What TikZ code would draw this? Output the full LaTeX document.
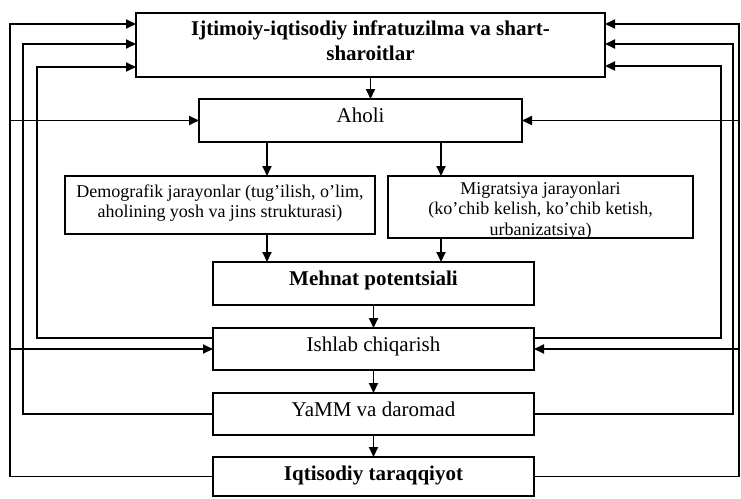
\documentclass[tikz,border=0pt]{standalone}
\usepackage{fontspec}
\setmainfont{Liberation Serif}
\usetikzlibrary{arrows.meta}
\begin{document}
\begin{tikzpicture}[x=1pt,y=-1pt,
  box/.style={draw, line width=1.9pt, rectangle, inner sep=0pt, outer sep=0pt, anchor=north west},
  bigfont/.style={font=\fontsize{21}{25}\selectfont},
  bigbold/.style={font=\fontsize{21}{25}\selectfont\bfseries},
  smallfont/.style={font=\fontsize{18}{20.5}\selectfont},
  oneline/.style={text height=23pt},
  conn/.style={line width=1.9pt},
  arr/.style={conn, -{Triangle[length=10pt,width=9pt]}}]
\useasboundingbox (0,0) rectangle (741,498);

% boxes
\node[box, bigbold, minimum width=469pt, minimum height=64pt] (top) at (136,13)
  {\parbox[c][64pt][t]{469pt}{\centering\rule{0pt}{22pt}Ijtimoiy-iqtisodiy infratuzilma va shart-\\sharoitlar}};
\node[box, bigfont, oneline, text depth=20pt, minimum width=323pt, minimum height=43pt] (aholi) at (199,99) {Aholi};
\node[box, smallfont, minimum width=310pt, minimum height=58pt] (demo) at (65,176)
  {\parbox[c][58pt][t]{310pt}{\centering\rule{0pt}{21pt}Demografik jarayonlar (tug’ilish, o’lim,\\aholining yosh va jins strukturasi)}};
\node[box, smallfont, minimum width=305pt, minimum height=62pt] (migr) at (388,176)
  {\parbox[c][62pt][t]{305pt}{\centering\rule{0pt}{18pt}Migratsiya jarayonlari\\(ko’chib kelish, ko’chib ketish,\\urbanizatsiya)}};
\node[box, bigbold, oneline, text depth=20pt, minimum width=321pt, minimum height=43pt] (mehnat) at (213,262) {Mehnat potentsiali};
\node[box, bigfont, oneline, text depth=19pt, minimum width=321pt, minimum height=42pt] (ishlab) at (213,328) {Ishlab chiqarish};
\node[box, bigfont, oneline, text depth=19pt, minimum width=321pt, minimum height=42pt] (yamm) at (213,393) {YaMM va daromad};
\node[box, bigbold, oneline, text depth=16pt, minimum width=321pt, minimum height=39pt] (iqt) at (213,457) {Iqtisodiy taraqqiyot};

% rails and branch columns
\coordinate (L1) at (10,0);
\coordinate (L2) at (23,0);
\coordinate (L3) at (37,0);
\coordinate (R1) at (739,0);
\coordinate (R2) at (733,0);
\coordinate (R3) at (721,0);
\coordinate (dx) at (267,0);
\coordinate (mx) at (441,0);

% main vertical flow
\draw[arr] (top.south) -- (top.south |- aholi.north);
\draw[arr] (aholi.south -| dx) -- (demo.north -| dx);
\draw[arr] (aholi.south -| mx) -- (migr.north -| mx);
\draw[arr] (demo.south -| dx) -- (mehnat.north -| dx);
\draw[arr] (migr.south -| mx) -- (mehnat.north -| mx);
\draw[arr] (mehnat.south) -- (ishlab.north);
\draw[arr] (ishlab.south) -- (yamm.north);
\draw[arr] (yamm.south) -- (iqt.north);

% feedback loops on the left
\draw[arr] (iqt.west) -- (iqt.west -| L1) |- ([yshift=-11pt]top.north west);
\draw[arr] (aholi.west -| L1) -- (aholi.west);
\draw[arr] (ishlab.west -| L1) -- (ishlab.west);
\draw[arr] (yamm.west) -- (yamm.west -| L2) |- ([yshift=-31pt]top.north west);
\draw[arr] ([yshift=11pt]ishlab.west) -- ([yshift=11pt]ishlab.west -| L3) |- ([yshift=-54pt]top.north west);

% feedback loops on the right
\draw[arr] (iqt.east) -- (iqt.east -| R1) |- ([yshift=-11pt]top.north east);
\draw[arr] (aholi.east -| R1) -- (aholi.east);
\draw[arr] (ishlab.east -| R1) -- (ishlab.east);
\draw[arr] (yamm.east) -- (yamm.east -| R2) |- ([yshift=-31pt]top.north east);
\draw[arr] ([yshift=11pt]ishlab.east) -- ([yshift=11pt]ishlab.east -| R3) |- ([yshift=-53pt]top.north east);
\end{tikzpicture}
\end{document}
